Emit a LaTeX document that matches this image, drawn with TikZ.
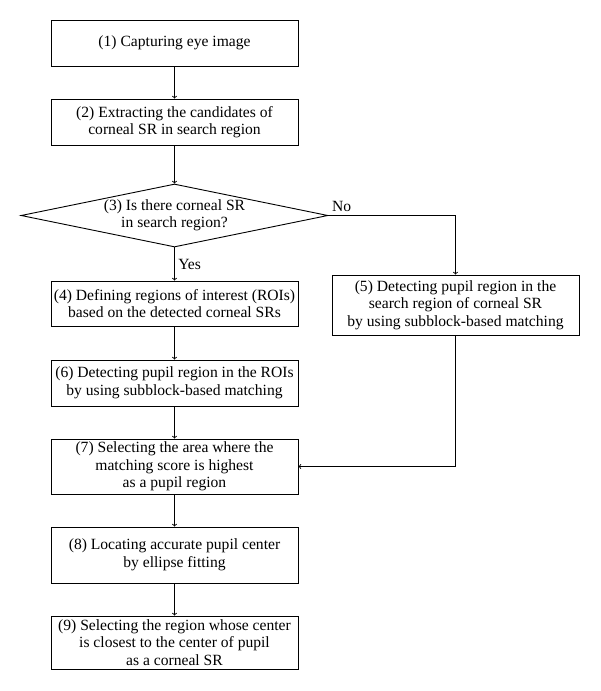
\documentclass[tikz,border=0pt]{standalone}
\usepackage{fontspec}
\setmainfont{Liberation Serif}
\usepackage{tikz}
\usetikzlibrary{positioning}
\usetikzlibrary{shapes.geometric}
\usetikzlibrary{arrows}
\tikzset{stepbox/.style={draw, line width=0.9pt, minimum width=247pt, inner sep=2pt, align=center, font=\fontsize{15.6}{17.5}\selectfont}}
\tikzset{decision/.style={draw, diamond, line width=0.9pt, aspect=4.9, inner sep=0pt, minimum width=307pt, minimum height=63pt, align=center, font=\fontsize{15.6}{17.5}\selectfont}}
\tikzset{flow/.style={->, line width=0.9pt}}

\begin{document}
\begin{tikzpicture}[x=1pt, y=-1pt]
\useasboundingbox (0,0) rectangle (600,691);
%\draw (51,20) rectangle (298,66);
\node[stepbox, minimum height=46pt] (capture) at (174.5,43) {(1) Capturing eye image};
\node[stepbox, minimum height=46pt] (extract) at (174.5,122) {(2) Extracting the candidates of\\corneal SR in search region};
\node[decision] (isthere) at (174.5,215.5) {(3) Is there corneal SR\\in search region?};
\node[stepbox, minimum height=45pt] (rois) at (174.5,303.5) {(4) Defining regions of interest (ROIs)\\based on the detected corneal SRs};
\node[stepbox, minimum height=60pt] (search) at (455.5,305) {(5) Detecting pupil region in the\\search region of corneal SR\\by using subblock-based matching};
\node[stepbox, minimum height=46pt] (detect) at (174.5,383) {(6) Detecting pupil region in the ROIs\\by using subblock-based matching};
\node[stepbox, minimum height=55pt] (select) at (174.5,466.5) {(7) Selecting the area where the\\matching score is highest\\as a pupil region};
\node[stepbox, minimum height=56pt] (locate) at (174.5,555) {(8) Locating accurate pupil center\\by ellipse fitting};
\node[stepbox, minimum height=53pt] (corneal) at (174.5,642.5) {(9) Selecting the region whose center\\is closest to the center of pupil\\as a corneal SR};
%\draw[->] (6,0) -- (c);
\draw[flow] (capture) -- (extract);
\draw[flow] (extract) -- (isthere);
\draw[flow] (isthere) -- node[right, font=\fontsize{15.6}{17.5}\selectfont] {Yes} (rois);
\draw[flow] (isthere.east) node[above right, font=\fontsize{15.6}{17.5}\selectfont] {No} -| (search.north);
\draw[flow] (rois) -- (detect);
\draw[flow] (detect) -- (select);
\draw[flow] (search.south) |- (select.east);
\draw[flow] (select) -- (locate);
\draw[flow] (locate) -- (corneal);
\end{tikzpicture}
\end{document}
